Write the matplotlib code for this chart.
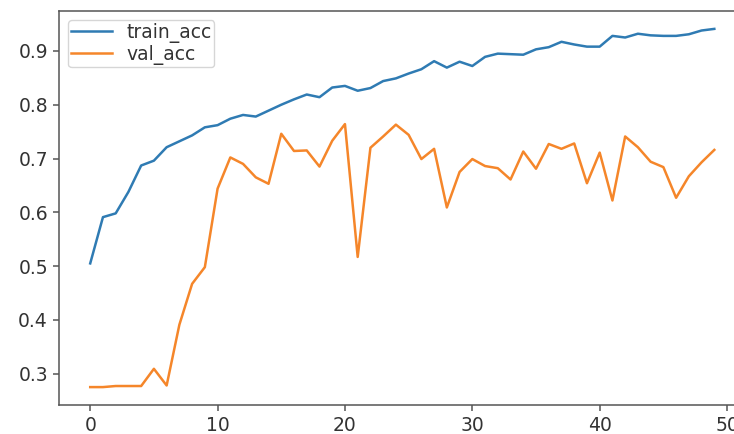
import matplotlib
matplotlib.use("Agg")
import matplotlib.pyplot as plt

epochs = list(range(50))

train_acc = [0.505, 0.591, 0.598, 0.638, 0.687, 0.696, 0.721, 0.732, 0.743, 0.758,
             0.762, 0.774, 0.781, 0.778, 0.789, 0.800, 0.810, 0.819, 0.814, 0.832,
             0.835, 0.826, 0.831, 0.844, 0.849, 0.858, 0.866, 0.881, 0.869, 0.880,
             0.872, 0.889, 0.895, 0.894, 0.893, 0.903, 0.907, 0.917, 0.912, 0.908,
             0.908, 0.928, 0.925, 0.932, 0.929, 0.928, 0.928, 0.931, 0.938, 0.941]

val_acc = [0.275, 0.275, 0.277, 0.277, 0.277, 0.309, 0.278, 0.391, 0.467, 0.498,
           0.644, 0.702, 0.690, 0.665, 0.653, 0.746, 0.714, 0.715, 0.685, 0.733,
           0.764, 0.517, 0.720, 0.741, 0.763, 0.744, 0.699, 0.718, 0.609, 0.675,
           0.699, 0.686, 0.682, 0.661, 0.713, 0.681, 0.727, 0.718, 0.728, 0.654,
           0.711, 0.622, 0.741, 0.721, 0.694, 0.684, 0.627, 0.667, 0.693, 0.716]

plt.rcParams['font.family'] = ['DejaVu Sans']
plt.rcParams['font.size'] = 13.5

fig = plt.figure(figsize=(7.34, 4.34), dpi=100)
# axes extend a little past the right edge of the canvas
ax = fig.add_axes([0.0804, 0.0668, 0.9353, 0.9079])

ax.plot(epochs, train_acc, label='train_acc', color='#2f7bb3', linewidth=1.8)
ax.plot(epochs, val_acc, label='val_acc', color='#f5862a', linewidth=1.8)

for spine in ax.spines.values():
    spine.set_color('#555555')
    spine.set_linewidth(1.1)
ax.tick_params(colors='#333333', length=4.5, width=1.1, labelsize=13.5)
ax.tick_params(axis='both', color='#555555')

leg = ax.legend(loc='upper left', fontsize=13.5, labelspacing=0.13,
                borderpad=0.12, handlelength=2.2)
for t in leg.get_texts():
    t.set_color('#333333')

fig.savefig('out.png', dpi=100)
